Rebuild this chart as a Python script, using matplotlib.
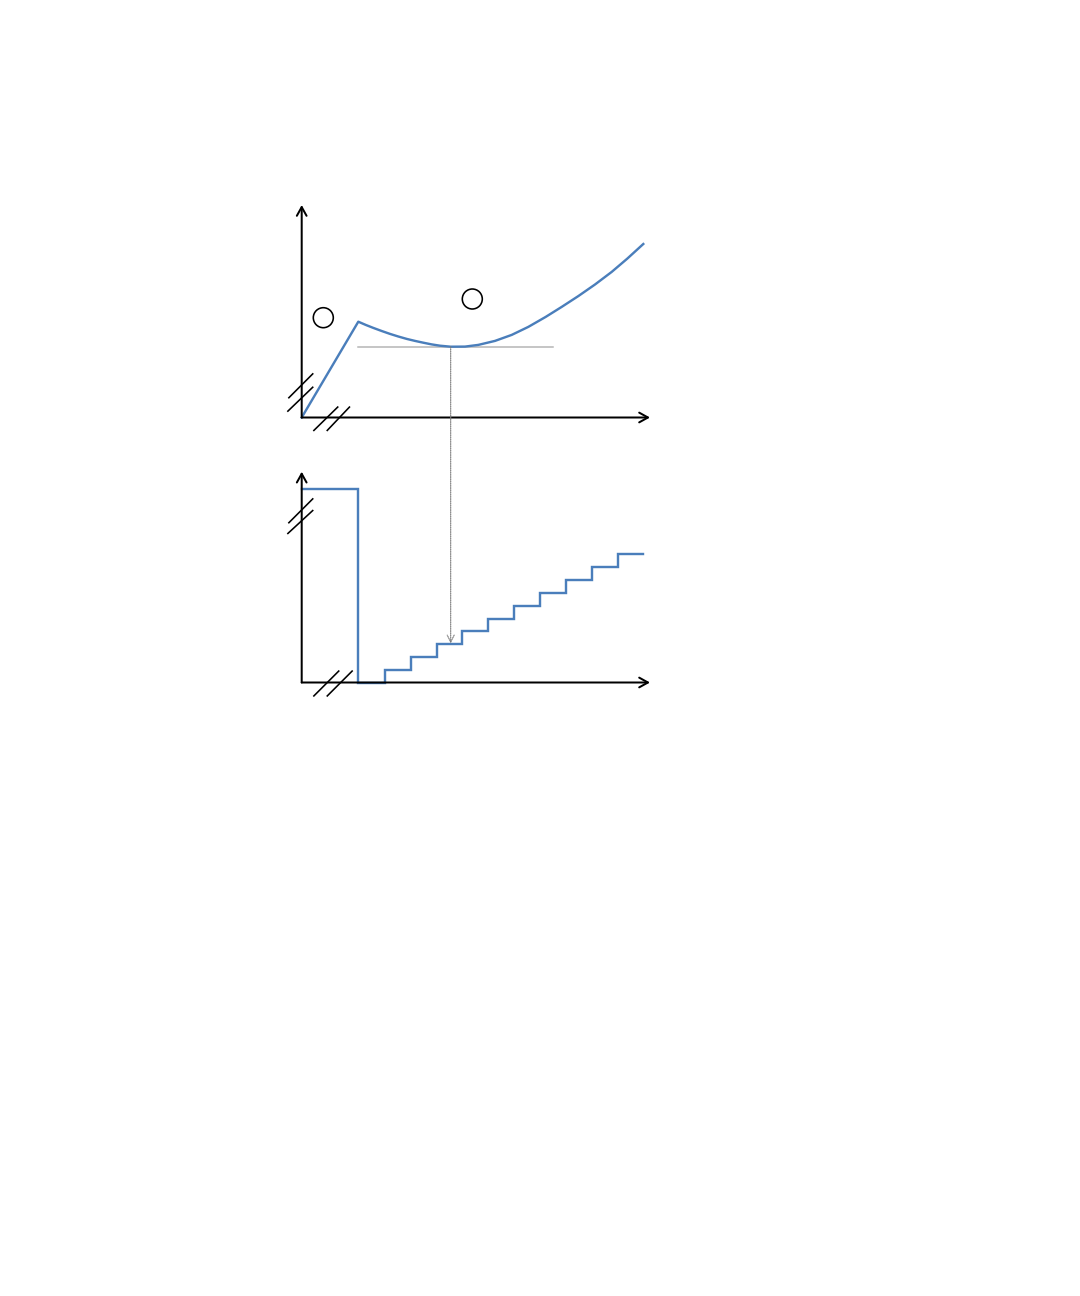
import matplotlib
matplotlib.use('Agg')
import matplotlib.pyplot as plt
from matplotlib.patches import Circle, ConnectionPatch

FIG_W, FIG_H = 1080, 1296
BLUE = '#4a7ebb'
BLACK = 'black'
GREY_LINE = '#b4b4b4'
GREY_ARROW = '#7a7a7a'

# ── Upper panel: cost-like curve (units = px offset from axis origin) ──────
top_origin = (301.7, 417.5)
top_size = (348.3, 212.5)
curve_x = [0, 56.6, 64, 71.6, 80, 88.3, 96.6, 105, 113.3, 121.6, 130, 138.3, 149,
           163.3, 176.6, 193.3, 210, 226.6, 244, 260, 276.6, 293.3, 310, 325.5, 341.6]
curve_y = [0, 95.8, 92.6, 89.6, 86.5, 83.6, 81, 78.6, 76.6, 74.8, 73.1, 71.8, 70.8,
           70.9, 72.6, 76.6, 82.6, 90.6, 100.6, 110.6, 121.4, 133.0, 145.6, 158.8, 173.5]
min_x, min_y = 149, 70.8
ref_line_x = [56.6, 251.6]
circle_centers = [(21.6, 99.8), (170.6, 118.5)]
circle_radius = 10

# ── Lower panel: step function ─────────────────────────────────────────────
bot_origin = (301.7, 682.5)
bot_size = (348.3, 210.8)
high_level = 193.5
drop_x = 56.6
step_edges = [83.3, 109, 135, 160.7, 186.7, 212.7, 238.3, 264.3, 290, 316, 341.7]
step_levels = [12.3, 25.3, 38.3, 51.3, 64, 77, 89.7, 102.3, 115.7, 128.3]
arrow_end_y = 39.2

# break marks (pairs of slanted segments)
top_ybreaks = [((-13.4, 19.2), (11.6, 44.2)), ((-14.4, 5.8), (11.6, 30.8))]
top_xbreaks = [((11.6, -13.5), (36.6, 11)), ((25, -13.5), (48.3, 11))]
bot_ybreaks = [((-13.4, 159.2), (11.6, 184.2)), ((-14.4, 148.5), (11.6, 172.5))]
bot_xbreaks = [((11.6, -14), (37.6, 12)), ((25, -14), (51, 12))]

PX = 72 / 100  # points per pixel at dpi 100


def make_ax(fig, origin, size):
    ox, oy = origin
    w, h = size
    ax = fig.add_axes([ox / FIG_W, (FIG_H - oy) / FIG_H, w / FIG_W, h / FIG_H])
    ax.set_xlim(0, w)
    ax.set_ylim(0, h)
    ax.axis('off')
    arrow = dict(arrowstyle='->,head_length=0.45,head_width=0.25', lw=2 * PX,
                 color=BLACK, shrinkA=0, shrinkB=0, mutation_scale=14)
    ax.annotate('', xy=(0, h), xytext=(0, 0), arrowprops=arrow, annotation_clip=False)
    ax.annotate('', xy=(w, 0), xytext=(0, 0), arrowprops=arrow, annotation_clip=False)
    return ax


def draw_breaks(ax, marks):
    for (x0, y0), (x1, y1) in marks:
        ax.plot([x0, x1], [y0, y1], color=BLACK, lw=1.6 * PX, clip_on=False,
                solid_capstyle='butt')


fig = plt.figure(figsize=(FIG_W / 100, FIG_H / 100), dpi=100)
fig.patch.set_facecolor('white')

ax_top = make_ax(fig, top_origin, top_size)
ax_top.plot(ref_line_x, [min_y, min_y], color=GREY_LINE, lw=1.5 * PX, clip_on=False)
ax_top.plot(curve_x, curve_y, color=BLUE, lw=2.4 * PX, clip_on=False,
            solid_joinstyle='round')
for cx, cy in circle_centers:
    ax_top.add_patch(Circle((cx, cy), circle_radius, fill=False, ec=BLACK,
                            lw=1.6 * PX, clip_on=False))
draw_breaks(ax_top, top_ybreaks)
draw_breaks(ax_top, top_xbreaks)

ax_bot = make_ax(fig, bot_origin, bot_size)
step_x = [0, drop_x, drop_x]
step_y = [high_level, high_level, 0]
step_x += [step_edges[0]]
step_y += [0]
for i, lvl in enumerate(step_levels):
    step_x += [step_edges[i], step_edges[i + 1]]
    step_y += [lvl, lvl]
ax_bot.plot(step_x, step_y, color=BLUE, lw=2.4 * PX, clip_on=False,
            solid_joinstyle='miter')
draw_breaks(ax_bot, bot_ybreaks)
draw_breaks(ax_bot, bot_xbreaks)

con = ConnectionPatch(xyA=(min_x, min_y), coordsA=ax_top.transData,
                      xyB=(min_x, arrow_end_y), coordsB=ax_bot.transData,
                      arrowstyle='->,head_length=0.5,head_width=0.25',
                      mutation_scale=10, color=GREY_ARROW, lw=1.1 * PX,
                      linestyle=(0, (1, 1)), shrinkA=0, shrinkB=0)
fig.add_artist(con)

fig.savefig('out.png', dpi=100, facecolor='white')
